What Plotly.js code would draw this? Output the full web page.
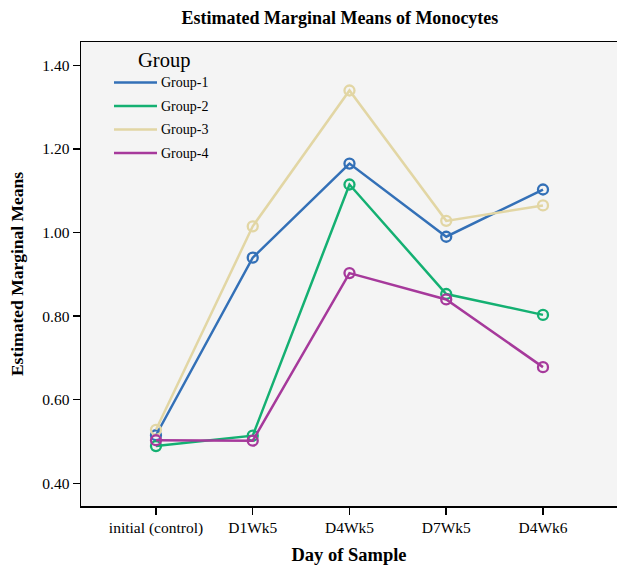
<!DOCTYPE html>
<html>
<head>
<meta charset="utf-8">
<script src="https://cdn.plot.ly/plotly-3.0.1.min.js"></script>
<style>body{margin:0;padding:0;background:#fff}#chart{width:617px;height:566px}</style>
</head>
<body>
<div id="chart"></div>
<script>
const categories = ["initial (control)", "D1Wk5", "D4Wk5", "D7Wk5", "D4Wk6"];
const group1 = [0.515, 0.940, 1.165, 0.990, 1.103];
const group2 = [0.489, 0.514, 1.115, 0.853, 0.803];
const group3 = [0.528, 1.015, 1.340, 1.028, 1.065];
const group4 = [0.503, 0.502, 0.903, 0.840, 0.678];
const groupNames = ["Group-1", "Group-2", "Group-3", "Group-4"];
const colors = ["#3370b7", "#14b072", "#e2d6a4", "#a6399b"];
const series = [group1, group2, group3, group4];
const yTicks = [0.4, 0.6, 0.8, 1.0, 1.2, 1.4];
const yTickText = ["0.40", "0.60", "0.80", "1.00", "1.20", "1.40"];

const font = "Liberation Serif, Times New Roman, serif";
const traces = series.map((vals, i) => ({
  x: categories.map((c, j) => j),
  y: vals,
  name: groupNames[i],
  type: "scatter",
  mode: "lines+markers",
  line: {color: colors[i], width: 2.5},
  marker: {symbol: "circle-open", size: 10, color: colors[i], line: {width: 2.3, color: colors[i]}},
  showlegend: false
}));

// custom legend (lines only), positioned in paper coordinates of plot area
const W = 536, H = 464, L = 81, B = 506;
const px = X => (X - L) / W;
const py = Y => (B - Y) / H;
const legendY = [82.5, 106, 129.5, 153];
const shapes = [];
const annotations = [];
groupNames.forEach((n, i) => {
  shapes.push({type: "line", xref: "paper", yref: "paper", x0: px(114), x1: px(157), y0: py(legendY[i]), y1: py(legendY[i]),
               line: {color: colors[i], width: 2.5}});
  annotations.push({xref: "paper", yref: "paper", x: px(159), y: py(legendY[i]), xanchor: "left", yanchor: "middle",
                    text: n, showarrow: false, font: {family: font, size: 14, color: "#000"}});
});
annotations.push({xref: "paper", yref: "paper", x: px(164), y: py(61), xanchor: "center", yanchor: "middle",
                  text: "Group", showarrow: false, font: {family: font, size: 20.5, color: "#000"}});

const layout = {
  width: 617, height: 566,
  margin: {l: 81, r: 0, t: 42, b: 60},
  paper_bgcolor: "#ffffff",
  plot_bgcolor: "#f4f4f4",
  font: {family: font, color: "#000"},
  title: {text: "<b>Estimated Marginal Means of Monocytes</b>", font: {family: font, size: 18, color: "#000"},
          x: 0.483, xref: "paper", xanchor: "center", y: 0.968, yanchor: "middle"},
  xaxis: {
    range: [-0.775, 4.765],
    tickvals: [0, 1, 2, 3, 4],
    ticktext: categories,
    showgrid: false, zeroline: false,
    showline: true, linecolor: "#000", linewidth: 1.5, mirror: true,
    ticks: "outside", ticklen: 7, tickwidth: 1.5, tickcolor: "#000",
    tickfont: {family: font, size: 15.5, color: "#000"},
    title: {text: "<b>Day of Sample</b>", font: {family: font, size: 18.5, color: "#000"}, standoff: 12}
  },
  yaxis: {
    range: [0.3457, 1.456],
    tickvals: yTicks,
    ticktext: yTickText,
    showgrid: false, zeroline: false,
    showline: true, linecolor: "#000", linewidth: 1.5,
    ticks: "outside", ticklen: 7, tickwidth: 1.5, tickcolor: "#000",
    tickfont: {family: font, size: 15.5, color: "#000"},
    title: {text: "<b>Estimated Marginal Means</b>", font: {family: font, size: 17.5, color: "#000"}, standoff: 14}
  },
  shapes: shapes,
  annotations: annotations,
  showlegend: false
};
Plotly.newPlot("chart", traces, layout, {displayModeBar: false, staticPlot: true});
</script>
</body>
</html>
